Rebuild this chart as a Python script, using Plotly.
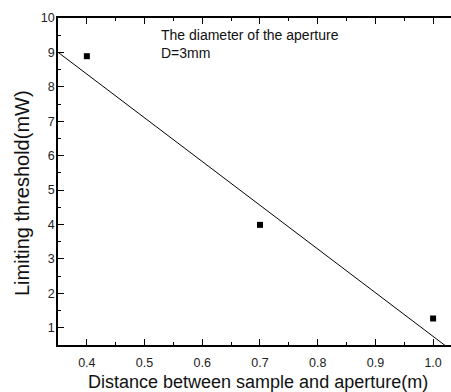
import numpy as np
import plotly.graph_objects as go

# Measured limiting thresholds
distance_m = [0.4, 0.7, 1.0]
threshold_mw = [8.89, 3.99, 1.27]

# Linear trend line: threshold = intercept + slope * distance
fit_intercept = 13.45
fit_slope = -12.7

x_range = [0.35, 1.031]
y_range = [0.5, 10.0]

x_tick_vals = [0.4, 0.5, 0.6, 0.7, 0.8, 0.9, 1.0]
x_tick_text = ["0.4", "0.5", "0.6", "0.7", "0.8", "0.9", "1.0"]
y_tick_vals = [1, 2, 3, 4, 5, 6, 7, 8, 9, 10]
y_tick_text = ["1", "2", "3", "4", "5", "6", "7", "8", "9", "10"]

note_lines = ["The diameter of the aperture", "D=3mm"]
y_title = "Limiting threshold(mW)"
x_title = "Distance between sample and aperture(m)"

font_family = "Liberation Sans, Arial, sans-serif"

W, H = 451, 392
M_L, M_R, M_T, M_B = 58, 0, 18, 47
plot_w = W - M_L - M_R
plot_h = H - M_T - M_B


def px_to_paper(px, py):
    """Pixel position in the page -> paper coordinates of the plot area."""
    return (px - M_L) / plot_w, 1 - (py - M_T) / plot_h


line_x = np.linspace(x_range[0], x_range[1], 200)
line_y = fit_intercept + fit_slope * line_x

fig = go.Figure()
fig.add_trace(go.Scatter(
    x=line_x, y=line_y, mode="lines",
    line=dict(color="black", width=1), hoverinfo="skip", cliponaxis=True,
))
fig.add_trace(go.Scatter(
    x=distance_m, y=threshold_mw, mode="markers",
    marker=dict(symbol="square", size=6, color="black"),
))

axis_common = dict(
    showgrid=False, zeroline=False, showline=True, linecolor="black",
    linewidth=1.5, ticks="inside", ticklen=6, tickwidth=1, tickcolor="black",
    tickfont=dict(family=font_family, size=12.5, color="#222"),
)

fig.update_xaxes(
    range=x_range, tickvals=x_tick_vals, ticktext=x_tick_text, mirror="ticks",
    ticklabelstandoff=5,
    minor=dict(dtick=0.05, tick0=0.35, ticks="inside", ticklen=3,
               tickcolor="black", tickwidth=1),
    **axis_common,
)
fig.update_yaxes(
    range=y_range, tickvals=y_tick_vals, ticktext=y_tick_text, mirror=False,
    ticklabelstandoff=-1,
    minor=dict(dtick=0.5, tick0=0.5, ticks="inside", ticklen=3,
               tickcolor="black", tickwidth=1),
    **axis_common,
)

# Axis titles as free-standing text
yx, yy = px_to_paper(22, 193)
fig.add_annotation(
    x=yx, y=yy, xref="paper", yref="paper", text=y_title, textangle=-90,
    showarrow=False, xanchor="center", yanchor="middle",
    font=dict(family=font_family, size=20, color="#111"),
)
xx, xy = px_to_paper(258, 382)
fig.add_annotation(
    x=xx, y=xy, xref="paper", yref="paper", text=x_title,
    showarrow=False, xanchor="center", yanchor="middle",
    font=dict(family=font_family, size=18, color="#111"),
)

fig.add_annotation(
    x=0.525, y=9.8, xref="x", yref="y", xanchor="left", yanchor="top",
    text="<br>".join(note_lines), showarrow=False, align="left",
    font=dict(family=font_family, size=14, color="#111"),
)

fig.update_layout(
    width=W, height=H,
    margin=dict(l=M_L, r=M_R, t=M_T, b=M_B),
    plot_bgcolor="white", paper_bgcolor="white",
    showlegend=False,
)

fig.write_html("out.html")
